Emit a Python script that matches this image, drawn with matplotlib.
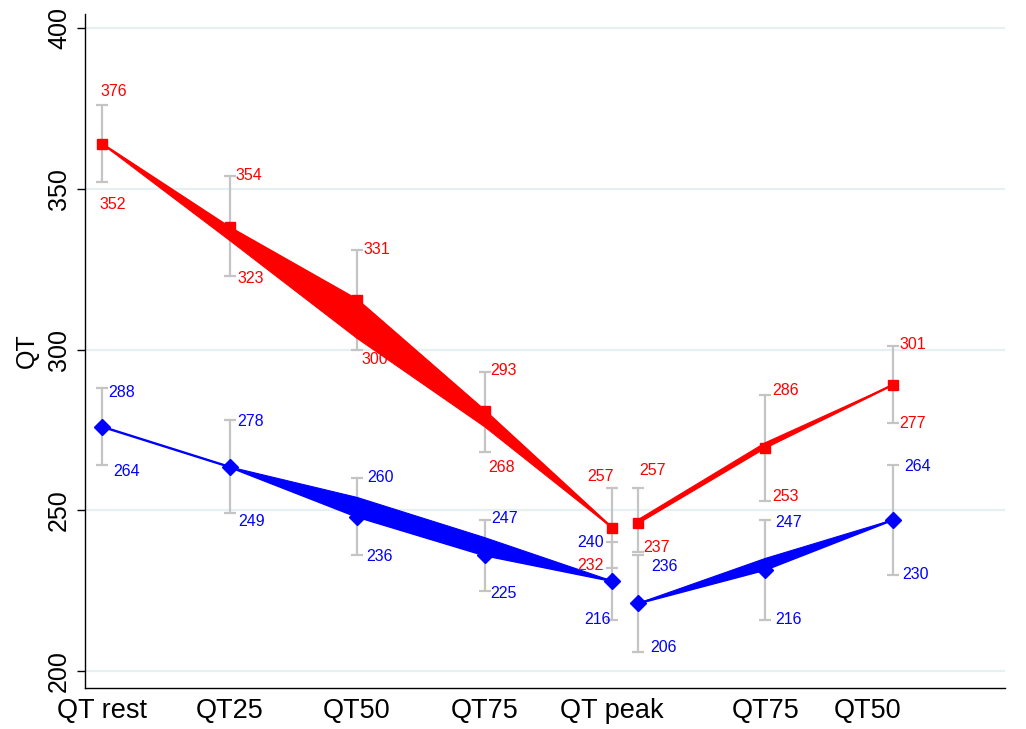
import matplotlib
matplotlib.use("Agg")
import matplotlib.pyplot as plt
from matplotlib.patches import Polygon

plt.rcParams["font.family"] = ["Liberation Sans", "DejaVu Sans"]

# Stage positions along the exercise / recovery axis
xpos = [1, 2, 3, 4, 5, 5.2, 6.2, 7.2]
tick_pos = [1, 2, 3, 4, 5, 6.2, 7]
tick_labels = ["QT rest", "QT25", "QT50", "QT75", "QT peak", "QT75", "QT50"]

# Group 1 (red): mean QT with 95% CI bounds
red_mean = [364, 338, 315.5, 281, 244.5, 246, 269.5, 289]
red_lo = [352, 323, 300, 268, 232, 237, 253, 277]
red_hi = [376, 354, 331, 293, 257, 257, 286, 301]
red_band = [364, 334, 303.5, 276, 244.5, 247, 271, 289]

# Group 2 (blue): mean QT with 95% CI bounds
blue_mean = [276, 263.5, 248, 236, 228, 221, 231.5, 247]
blue_lo = [264, 249, 236, 225, 216, 206, 216, 230]
blue_hi = [288, 278, 260, 247, 240, 236, 247, 264]
blue_band = [276, 263.5, 254, 241.5, 228, 221, 235, 247]

# The two phases are drawn as separate connected pieces
segments = [(0, 5), (5, 8)]

# Label offsets (pixels) relative to the CI caps
red_hi_off = [(12, 14), (19, 0), (20, 0), (19, 2), (-12, 11), (15, 17), (20, 4), (20, 2)]
red_lo_off = [(11, -22), (21, -3), (18, -10), (17, -15), (-22, 3), (19, 5), (20, 4), (20, 0)]
blue_hi_off = [(20, -4), (21, -1), (23, 1), (20, 1), (-22, 0), (27, -11), (23, -3), (25, -1)]
blue_lo_off = [(25, -6), (22, -8), (22, -1), (19, -3), (-15, 0), (26, 4), (23, 0), (23, 0)]

W, H, DPI = 1026, 729, 100
fig = plt.figure(figsize=(W / DPI, H / DPI), dpi=DPI)
ax = fig.add_axes([85 / W, (H - 688) / H, (1005 - 85) / W, (688 - 14) / H])

ax.set_xlim(0.867, 8.08)
ax.set_ylim(194.7, 404.4)

grid_col = "#e6eff2"
for v in [200, 250, 300, 350, 400]:
    ax.axhline(v, color=grid_col, lw=1.6, zorder=0)

ci_col = "#c4c4c4"
ax.errorbar(xpos, red_mean, yerr=[[m - l for m, l in zip(red_mean, red_lo)],
                                   [h - m for m, h in zip(red_mean, red_hi)]],
            fmt="none", ecolor=ci_col, elinewidth=1.6, capsize=4.5, capthick=1.6, zorder=1)
ax.errorbar(xpos, blue_mean, yerr=[[m - l for m, l in zip(blue_mean, blue_lo)],
                                    [h - m for m, h in zip(blue_mean, blue_hi)]],
            fmt="none", ecolor=ci_col, elinewidth=1.6, capsize=4.5, capthick=1.6, zorder=1)


def draw_series(mean, band, color, marker, msize):
    for a, b in segments:
        for i in range(a, b - 1):
            verts = [(xpos[i], mean[i]), (xpos[i + 1], mean[i + 1]),
                     (xpos[i + 1], band[i + 1]), (xpos[i], band[i])]
            ax.add_patch(Polygon(verts, closed=True, facecolor=color,
                                 edgecolor=color, lw=0.8, zorder=2))
        ax.plot(xpos[a:b], mean[a:b], color=color, lw=1.7, marker=marker,
                ms=msize, mec=color, mfc=color, zorder=3)


draw_series(red_mean, red_band, "#ff0000", "s", 7.5)
draw_series(blue_mean, blue_band, "#0000ff", "D", 8.5)


def draw_labels(vals, offs, color):
    for x, v, (dx, dy) in zip(xpos, vals, offs):
        ax.annotate(f"{v}", xy=(x, v), xytext=(dx * 72 / DPI, dy * 72 / DPI),
                    textcoords="offset points", ha="center", va="center",
                    fontsize=11.5, color=color, zorder=4)


draw_labels(red_hi, red_hi_off, "#ff0000")
draw_labels(red_lo, red_lo_off, "#ff0000")
draw_labels(blue_hi, blue_hi_off, "#0000ff")
draw_labels(blue_lo, blue_lo_off, "#0000ff")

ax.set_xticks(tick_pos)
ax.set_xticklabels(tick_labels, fontsize=19.5)
ax.tick_params(axis="x", length=0, pad=7)
ax.set_yticks([200, 250, 300, 350, 400])
ax.set_yticklabels(["200", "250", "300", "350", "400"], fontsize=18,
                   rotation=90, va="center")
ax.tick_params(axis="y", length=6, width=1.0, pad=4, color="black")
ax.set_ylabel("QT", fontsize=18, labelpad=6)

for s in ["top", "right"]:
    ax.spines[s].set_visible(False)
for s in ["left", "bottom"]:
    ax.spines[s].set_linewidth(1.0)

fig.savefig("out.png", dpi=DPI)
